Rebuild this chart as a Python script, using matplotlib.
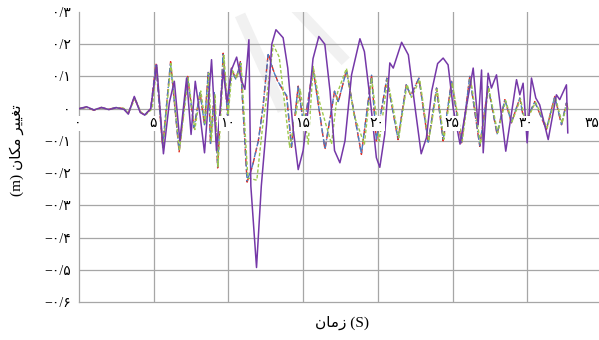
import numpy as np
import matplotlib.pyplot as plt

plt.rcParams['font.family'] = ['Liberation Serif', 'DejaVu Sans']

# ارقام فارسی
fa = str.maketrans('0123456789', '۰۱۲۳۴۵۶۷۸۹')

# زمان (s) و تغییر مکان (m) برای چهار حالت
t_purple = [0, 0.5, 1.0, 1.5, 2.0, 2.5, 3.0, 3.3, 3.7, 4.1, 4.4, 4.8, 5.2, 5.65, 6.05,
            6.38, 6.75, 7.2, 7.5, 7.78, 8.1, 8.4, 8.87, 9.2, 9.45, 9.65, 9.9, 10.2, 10.55,
            10.85, 11.1, 11.37, 11.5, 11.88, 12.2, 12.55, 12.9, 13.18, 13.66, 13.97, 14.3,
            14.67, 15.0, 15.34, 15.66, 16.05, 16.45, 16.8, 17.1, 17.46, 17.8, 18.24, 18.8,
            19.1, 19.55, 19.9, 20.13, 20.46, 20.8, 21.03, 21.59, 22.04, 22.5, 22.9, 23.25,
            23.6, 24.0, 24.37, 24.7, 25.04, 25.5, 25.9, 26.38, 26.71, 26.94, 27.05, 27.38,
            27.6, 27.94, 28.56, 29.28, 29.5, 29.72, 29.99, 30.28, 30.57, 30.83, 31.4, 31.95,
            32.17, 32.62, 32.71]
v_purple = [0, 0.006, -0.004, 0.004, -0.003, 0.003, -0.002, -0.017, 0.038, -0.012, -0.02,
            0.0, 0.136, -0.14, 0.02, 0.085, -0.1, 0.095, -0.08, 0.085, -0.02, -0.137, 0.152,
            -0.13, 0.0, 0.12, 0.02, 0.12, 0.16, 0.09, 0.06, 0.214, -0.24, -0.493, -0.24,
            -0.05, 0.2, 0.245, 0.22, 0.126, -0.05, -0.189, -0.13, 0.0, 0.155, 0.224, 0.2,
            0.054, -0.13, -0.168, -0.1, 0.105, 0.217, 0.177, 0.003, -0.152, -0.182, -0.08,
            0.142, 0.126, 0.206, 0.167, 0.0, -0.14, -0.09, 0.054, 0.14, 0.157, 0.136, 0.002,
            -0.11, 0.0, 0.126, -0.05, 0.12, -0.137, 0.11, 0.064, 0.105, -0.132, 0.09, 0.043,
            0.079, -0.106, 0.095, 0.033, 0.012, -0.096, 0.043, 0.028, 0.074, -0.075]

t_red = [0, 0.5, 1.0, 1.5, 2.0, 2.5, 3.0, 3.3, 3.7, 4.1, 4.4, 4.8, 5.15, 5.6, 6.13, 6.7,
         7.27, 7.7, 8.1, 8.4, 8.65, 8.8, 9.05, 9.28, 9.65, 9.94, 10.2, 10.5, 10.8, 11.25,
         11.6, 12.0, 12.3, 12.66, 13.0, 13.3, 13.9, 14.22, 14.67, 15.05, 15.66, 16.46, 17.1,
         17.35, 17.9, 18.9, 19.58, 19.9, 20.6, 21.35, 21.9, 22.2, 22.75, 23.37, 23.93, 24.37,
         24.93, 25.6, 26.15, 26.82, 27.38, 27.98, 28.5, 28.94, 29.5, 29.83, 30.5, 31.28,
         31.84, 32.29, 32.62, 32.71]
v_red = [0, 0.004, -0.005, 0.003, -0.002, 0.004, 0, -0.015, 0.035, -0.01, -0.02, 0.0, 0.14,
         -0.12, 0.146, -0.134, 0.1, -0.06, 0.05, -0.05, 0.115, -0.11, 0.05, -0.184, 0.172,
         -0.02, 0.126, 0.09, 0.146, -0.228, -0.18, -0.1, 0.0, 0.172, 0.12, 0.085, 0.038,
         -0.12, 0.07, -0.06, 0.126, -0.127, 0.054, 0.02, 0.12, -0.142, 0.105, -0.1, 0.095,
         -0.096, 0.074, 0.04, 0.095, -0.106, 0.064, -0.1, 0.085, -0.106, 0.1, -0.117, 0.069,
         -0.08, 0.028, -0.044, 0.033, -0.05, 0.022, -0.065, 0.038, -0.05, 0.017, 0.002]

t_blue = [0, 0.5, 1.0, 1.5, 2.0, 2.5, 3.0, 3.3, 3.7, 4.1, 4.4, 4.8, 5.15, 5.6, 6.12, 6.7,
          7.27, 7.7, 8.1, 8.4, 8.65, 8.8, 9.05, 9.28, 9.64, 9.94, 10.2, 10.5, 10.8, 11.25,
          11.6, 12.0, 12.3, 12.66, 13.0, 13.3, 13.9, 14.22, 14.67, 15.05, 15.66, 16.46, 17.1,
          17.35, 17.9, 18.9, 19.58, 19.9, 20.6, 21.35, 21.9, 22.2, 22.75, 23.37, 23.93, 24.37,
          24.93, 25.6, 26.15, 26.82, 27.38, 27.98, 28.5, 28.94, 29.5, 29.83, 30.5, 31.28,
          31.84, 32.29, 32.62, 32.71]
v_blue = [0, 0.004, -0.004, 0.003, -0.002, 0.004, 0, -0.015, 0.034, -0.01, -0.019, 0.0, 0.138,
          -0.118, 0.142, -0.13, 0.1, -0.058, 0.05, -0.05, 0.112, -0.108, 0.05, -0.18, 0.168,
          -0.02, 0.124, 0.09, 0.143, -0.224, -0.178, -0.1, 0.0, 0.168, 0.118, 0.085, 0.04,
          -0.118, 0.07, -0.058, 0.124, -0.125, 0.054, 0.022, 0.118, -0.14, 0.104, -0.098,
          0.094, -0.094, 0.074, 0.042, 0.094, -0.104, 0.064, -0.098, 0.084, -0.104, 0.1,
          -0.115, 0.068, -0.078, 0.028, -0.043, 0.033, -0.048, 0.022, -0.063, 0.038, -0.049,
          0.018, 0.004]

t_green = [0, 0.5, 1.0, 1.5, 2.0, 2.5, 3.0, 3.3, 3.75, 4.15, 4.5, 4.9, 5.2, 5.62, 6.15, 6.72,
           7.3, 7.75, 8.15, 8.45, 8.7, 8.85, 9.1, 9.3, 9.7, 9.98, 10.25, 10.55, 10.85, 11.3,
           11.9, 12.3, 12.6, 13.0, 13.4, 14.1, 14.5, 14.8, 15.34, 15.67, 16.1, 16.9, 17.3,
           17.9, 18.4, 19.1, 19.58, 20.1, 20.65, 21.4, 21.95, 22.25, 22.8, 23.4, 23.97, 24.42,
           24.97, 25.65, 26.2, 26.87, 27.42, 28.02, 28.55, 28.98, 29.55, 29.88, 30.55, 31.33,
           31.88, 32.33, 32.66, 32.75]
v_green = [0, 0.005, -0.004, 0.004, -0.003, 0.003, 0.001, -0.014, 0.032, -0.012, -0.018, 0.0,
           0.135, -0.125, 0.14, -0.13, 0.095, -0.065, 0.055, -0.045, 0.11, -0.1, 0.045, -0.18,
           0.165, -0.02, 0.12, 0.095, 0.14, -0.215, -0.222, -0.05, 0.05, 0.198, 0.16, -0.12,
           -0.02, 0.06, -0.11, 0.131, 0.02, -0.11, 0.05, 0.125, -0.02, -0.11, 0.095, -0.1,
           0.09, -0.09, 0.075, 0.035, 0.09, -0.1, 0.06, -0.095, 0.08, -0.1, 0.095, -0.11,
           0.065, -0.075, 0.025, -0.04, 0.03, -0.045, 0.02, -0.06, 0.035, -0.045, 0.015, 0.0]

x_ticks = [0, 5, 10, 15, 20, 25, 30, 35]
y_ticks = [-0.6, -0.5, -0.4, -0.3, -0.2, -0.1, 0.0, 0.1, 0.2, 0.3]

# عنوان محورها (حروف به شکل نمایشی و ترتیب چپ به راست)
xlabel = '\uFEE5\uFE8E\uFEE3\uFEAF (S)'
ylabel = '(m) \uFEE5\uFE8E\uFB91\uFEE3 \uFEAE\uFEF4\uFEF4\uFED0\uFE97'

fig = plt.figure(figsize=(5.99, 3.4), dpi=100)
ax = fig.add_axes([79/599, 38/340, 523/599, 290/340])

# نشان کم‌رنگ پس‌زمینه
for (x0, y0), (x1, y1) in [((0.308, 0.99), (0.39, 0.66)), ((0.40, 1.04), (0.51, 0.83))]:
    ax.plot([x0, x1], [y0, y1], color='#F1F1F1', lw=8, solid_capstyle='butt',
            transform=ax.transAxes, zorder=0.5)

grid_c = '#A6A6A6'
for y in y_ticks[1:-1]:
    ax.axhline(y, color=grid_c, lw=0.9, zorder=1)
for x in x_ticks[1:-1]:
    ax.axvline(x, color=grid_c, lw=0.9, zorder=1)

ax.plot(t_red, v_red, color='#E32B22', lw=1.0, ls=(0, (5, 2.5)), zorder=3)
ax.plot(t_blue, v_blue, color='#4A7CC2', lw=1.0, ls=(0, (4, 1.5, 1, 1.5)), zorder=4)
ax.plot(t_green, v_green, color='#9CC84C', lw=1.0, ls=(0, (2.5, 1.5)), zorder=5)
ax.plot(t_purple, v_purple, color='#7538A8', lw=1.1, zorder=6)

ax.set_xlim(0, 35)
ax.set_ylim(-0.6, 0.3)
ax.set_xticks([])
ax.set_yticks(y_ticks)
ylabs = []
for y in y_ticks:
    if abs(y) < 1e-9:
        ylabs.append('۰')
    else:
        ylabs.append(('−' if y < 0 else '') + '۰/' + str(int(round(abs(y) * 10))).translate(fa))
ax.set_yticklabels(ylabs, fontsize=10)
ax.tick_params(axis='y', length=0, pad=6)

for s in ['top', 'right']:
    ax.spines[s].set_visible(False)
for s in ['left', 'bottom']:
    ax.spines[s].set_color(grid_c)
    ax.spines[s].set_linewidth(0.9)

for x in x_ticks:
    dx = -10 if x == 35 else -1
    ax.annotate(str(x).translate(fa), (x, 0), xytext=(dx, -15), textcoords='offset pixels',
                ha='center', va='center', fontsize=10, zorder=7, annotation_clip=False,
                bbox=dict(fc='white', ec='none', pad=0.6))

fig.text(342/599, 1 - 323/340, xlabel, ha='center', va='center', fontsize=11)
fig.text(17/599, 1 - 150/340, ylabel, ha='center', va='center', fontsize=11, rotation=90)

plt.savefig('out.png', dpi=100)
